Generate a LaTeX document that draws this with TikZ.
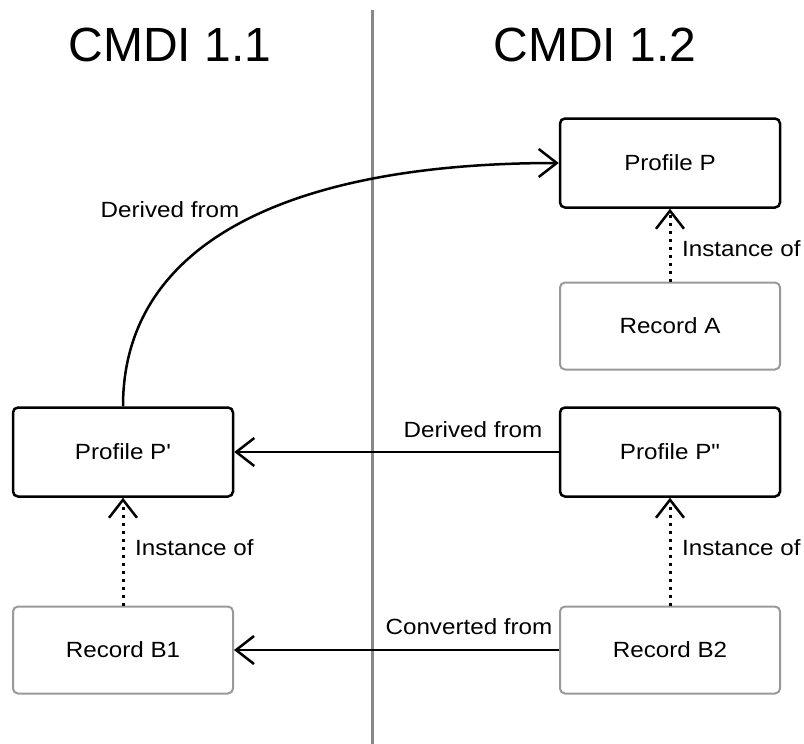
\documentclass[tikz,border=0pt]{standalone}
\usepackage{fontspec}
\setmainfont{Liberation Sans}
\newfontfamily\wideface[FakeStretch=1.1]{Liberation Sans}
\usetikzlibrary{arrows.meta}
\definecolor{rgray}{HTML}{999999}
\definecolor{lgray}{HTML}{888888}
\tikzset{
  profbox/.style={draw=black, line width=2.5pt, rounded corners=5pt, minimum width=220pt, minimum height=89pt, inner sep=0pt, font=\wideface\fontsize{22}{26}\selectfont},
  recbox/.style={draw=rgray, line width=2pt, rounded corners=5pt, minimum width=220pt, minimum height=87pt, inner sep=0pt, font=\wideface\fontsize{22}{26}\selectfont},
  lbl/.style={font=\wideface\fontsize{22}{26}\selectfont, inner sep=0pt},
  ttl/.style={font=\fontsize{48}{52}\selectfont, inner sep=0pt},
  rel/.style={line width=2.5pt, -{Straight Barb[length=18pt,width=28pt,line width=2.5pt]}},
  inst/.style={line width=3pt, dash pattern=on 3pt off 5pt, -{Straight Barb[length=18pt,width=28pt,line width=2.5pt]}}
}
\begin{document}
\begin{tikzpicture}[x=1pt,y=-1pt]
\useasboundingbox (0,0) rectangle (804,744);
\draw[lgray, line width=3pt] (372,10) -- (372,744);
\node[ttl] (t1) at (170,45) {CMDI 1.1};
\node[ttl] (t2) at (595,45) {CMDI 1.2};
\node[profbox] (pp) at (670,163) {Profile P};
\node[recbox] (ra) at (670,326) {Record A};
\node[profbox] (p1) at (123,452) {Profile P\symbol{39}};
\node[profbox] (p2) at (670,452) {Profile P\symbol{34}};
\node[recbox] (b1) at (123,650) {Record B1};
\node[recbox] (b2) at (670,650) {Record B2};
\draw[rel] (p1.north) .. controls (123,245) and (285,163) .. (pp.west);
\draw[rel] (p2.west) -- (p1.east);
\draw[rel] (b2.west) -- (b1.east);
\draw[inst] (ra.north) -- (pp.south);
\draw[inst] (p2.south |- b2.north) -- (p2.south);
\draw[inst] (b1.north) -- (p1.south);
\node[lbl] (l1) at (170,210) {Derived from};
\node[lbl] (l2) at (473,430) {Derived from};
\node[lbl] (l3) at (469,627) {Converted from};
\node[lbl, anchor=west] (i1) at (682,249) {Instance of};
\node[lbl, anchor=west] (i2) at (682,548) {Instance of};
\node[lbl, anchor=west] (i3) at (135,548) {Instance of};
\end{tikzpicture}
\end{document}
